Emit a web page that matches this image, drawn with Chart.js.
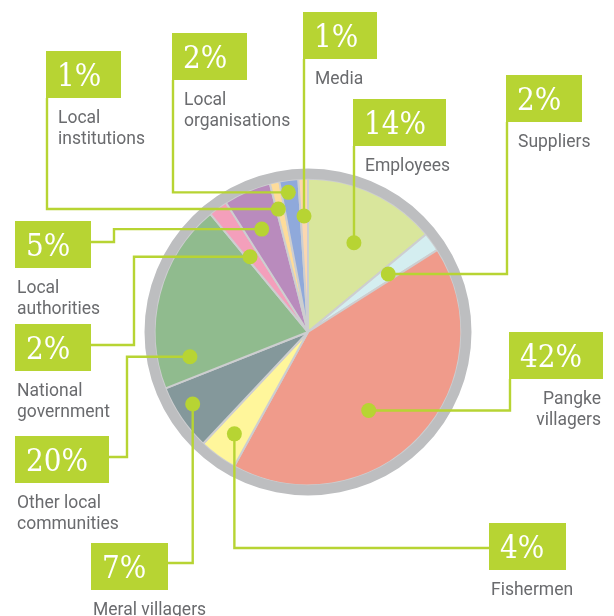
<!DOCTYPE html>
<html>
<head>
<meta charset="utf-8">
<script src="https://cdn.jsdelivr.net/npm/chart.js@4.4.1/dist/chart.umd.min.js"></script>
<style>
html, body { margin: 0; padding: 0; background: #fff; }
#wrap { width: 614px; height: 616px; position: relative; }
</style>
</head>
<body>
<div id="wrap"><canvas id="chart"></canvas></div>
<script>
// Stakeholder share pie, clockwise from 12 o'clock
const categories = ["Employees", "Suppliers", "Pangke villagers", "Fishermen", "Meral villagers",
  "Other local communities", "National government", "Local authorities", "Local institutions",
  "Local organisations", "Media"];
const shares = [14, 2, 42, 4, 7, 20, 2, 5, 1, 2, 1];
const sliceColors = ["#d9e69c", "#d4eef0", "#f09b8b", "#fff69b", "#84989b", "#90bb8e",
  "#f49fbb", "#b98bbd", "#fddc9a", "#8fa9db", "#fbd7b0"];

const LIME = "#b7d433";
const RING = "#bdbec0";
const SEP = "#cdced0";
const TEXT = "#6a6b6e";

// Callout layout per slice (same order as categories).
// box: top-left of the green tag; wrap: words on first label line;
// at: [fraction along the slice, fraction of radius] for the dot.
const callouts = [
  { box: [353, 99],  w: 93, kind: "drop",  at: [0.54, 0.655], label: "in",    wrap: 1 },
  { box: [506, 75],  w: 76, kind: "drop",  at: [0.52, 0.646], label: "in",    wrap: 1 },
  { box: [509, 332], w: 94, kind: "drop",  at: [0.56, 0.647], label: "right", wrap: 1 },
  { box: [489, 523], w: 77, kind: "toLeft", off: 25, at: [0.49, 0.82], label: "edge", wrap: 1 },
  { box: [91, 543],  w: 77, kind: "toRight", off: 20, at: [0.587, 0.887], label: "edge", wrap: 2 },
  { box: [15, 436],  w: 94, kind: "step", off: 21, xv: 127, at: [0.136, 0.787], label: "edge", wrap: 2 },
  { box: [15, 324],  w: 76, kind: "step", off: 21, xv: 134, at: [0.28, 0.62], label: "edge", wrap: 1 },
  { box: [15, 221],  w: 76, kind: "step", off: 21, xv: 114, at: [0.455, 0.736], label: "edge", wrap: 1 },
  { box: [46, 51],   w: 75, kind: "drop",  at: [0.23, 0.825], label: "in",    wrap: 1 },
  { box: [172, 33],  w: 75, kind: "drop",  at: [0.385, 0.92], label: "in",    wrap: 1 },
  { box: [303, 12],  w: 74, kind: "drop",  at: [0.45, 0.757], label: "in",    wrap: 1 }
];
const BOX_H = 47;

function labelLines(name, wrap){
  const words = name.split(" ");
  if(words.length <= wrap) return [name];
  return [words.slice(0, wrap).join(" "), words.slice(wrap).join(" ")];
}

const calloutPlugin = {
  id: "callouts",
  afterDatasetsDraw(chart){
    const { ctx } = chart;
    const arcs = chart.getDatasetMeta(1).data;
    ctx.save();

    const dots = arcs.map((arc, i) => {
      const [t, rf] = callouts[i].at;
      const a = arc.startAngle + t * (arc.endAngle - arc.startAngle);
      const r = rf * arc.outerRadius;
      return { x: arc.x + Math.cos(a) * r, y: arc.y + Math.sin(a) * r };
    });

    // connector lines
    ctx.strokeStyle = LIME;
    ctx.lineWidth = 2.4;
    ctx.lineJoin = "miter";
    callouts.forEach((c, i) => {
      const d = dots[i];
      const [bx, by] = c.box;
      let pts;
      if(c.kind === "drop") pts = [[bx + 1, by + BOX_H], [bx + 1, d.y], [d.x, d.y]];
      else if(c.kind === "toLeft") pts = [[bx, by + c.off], [d.x, by + c.off], [d.x, d.y]];
      else if(c.kind === "toRight") pts = [[bx + c.w, by + c.off], [d.x, by + c.off], [d.x, d.y]];
      else pts = [[bx + c.w, by + c.off], [c.xv, by + c.off], [c.xv, d.y], [d.x, d.y]];
      ctx.beginPath();
      pts.forEach((p, k) => k ? ctx.lineTo(p[0], p[1]) : ctx.moveTo(p[0], p[1]));
      ctx.stroke();
    });

    // dots
    ctx.fillStyle = LIME;
    dots.forEach(d => {
      ctx.beginPath();
      ctx.arc(d.x, d.y, 7.5, 0, Math.PI * 2);
      ctx.fill();
    });

    // tags and labels
    callouts.forEach((c, i) => {
      const [bx, by] = c.box;
      ctx.fillStyle = LIME;
      ctx.fillRect(bx, by, c.w, BOX_H);
      ctx.fillStyle = "#ffffff";
      ctx.font = '31px "DejaVu Serif Condensed", "DejaVu Serif", serif';
      ctx.textAlign = "left";
      ctx.textBaseline = "alphabetic";
      ctx.fillText(shares[i] + "%", bx + 11, by + 35);

      ctx.fillStyle = TEXT;
      ctx.font = '17.5px Roboto, "Noto Sans", sans-serif';
      let x = bx + 12;
      if(c.label === "edge") x = bx + 2;
      if(c.label === "right"){ x = bx + c.w - 2; ctx.textAlign = "right"; }
      labelLines(categories[i], c.wrap).forEach((ln, k) => {
        ctx.fillText(ln, x, by + 72 + k * 21);
      });
    });
    ctx.restore();
  }
};

new Chart(document.getElementById("chart"), {
  type: "doughnut",
  data: {
    labels: categories,
    datasets: [
      { data: [1], backgroundColor: [RING], borderWidth: 0, weight: 1 },
      { data: shares, backgroundColor: sliceColors, borderColor: SEP, borderWidth: 2, weight: 15 }
    ]
  },
  options: {
    responsive: true,
    maintainAspectRatio: false,
    animation: false,
    cutout: 0,
    radius: 163.5,
    layout: { padding: { left: 2, right: 0, top: 48, bottom: 0 } },
    plugins: { legend: { display: false }, tooltip: { enabled: false } },
    events: []
  },
  plugins: [calloutPlugin]
});
</script>
</body>
</html>
